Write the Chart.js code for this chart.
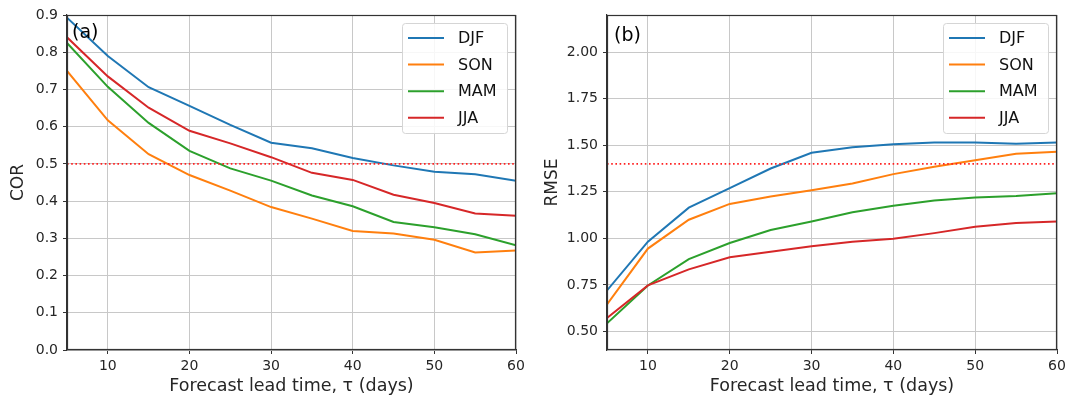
<!DOCTYPE html>
<html><head><meta charset="utf-8">
<script src="https://cdn.jsdelivr.net/npm/chart.js@4/dist/chart.umd.min.js"></script>
<style>
html,body{margin:0;padding:0;background:#fff;width:1066px;height:398px;overflow:hidden}
#c1{position:absolute;left:0;top:0;width:530px;height:398px}
#c2{position:absolute;left:530px;top:0;width:536px;height:398px}
</style></head><body>
<canvas id="c1" width="530" height="398"></canvas>
<canvas id="c2" width="536" height="398"></canvas>
<script>
// ---- data ----
const leadTimes = [5, 10, 15, 20, 25, 30, 35, 40, 45, 50, 55, 60];
const seasons = ['DJF', 'SON', 'MAM', 'JJA'];
const corDJF = [0.893, 0.790, 0.706, 0.656, 0.605, 0.557, 0.542, 0.516, 0.496, 0.479, 0.472, 0.455];
const corSON = [0.750, 0.617, 0.526, 0.470, 0.428, 0.384, 0.353, 0.320, 0.313, 0.296, 0.262, 0.267];
const corMAM = [0.825, 0.707, 0.610, 0.535, 0.488, 0.455, 0.415, 0.386, 0.344, 0.330, 0.311, 0.281];
const corJJA = [0.840, 0.735, 0.651, 0.589, 0.555, 0.518, 0.476, 0.457, 0.417, 0.395, 0.367, 0.361];
const rmseDJF = [0.720, 0.982, 1.165, 1.270, 1.375, 1.460, 1.490, 1.505, 1.515, 1.515, 1.508, 1.515];
const rmseSON = [0.645, 0.945, 1.100, 1.185, 1.225, 1.258, 1.295, 1.345, 1.385, 1.420, 1.455, 1.465];
const rmseMAM = [0.543, 0.747, 0.888, 0.975, 1.045, 1.090, 1.140, 1.175, 1.203, 1.220, 1.228, 1.242];
const rmseJJA = [0.572, 0.747, 0.833, 0.898, 0.928, 0.957, 0.982, 0.998, 1.028, 1.062, 1.083, 1.090];
const corThreshold = 0.5;
const rmseThreshold = 1.4;
const xTicks = [10, 20, 30, 40, 50, 60];
const corTicks = [0.0, 0.1, 0.2, 0.3, 0.4, 0.5, 0.6, 0.7, 0.8, 0.9];
const rmseTicks = [0.50, 0.75, 1.00, 1.25, 1.50, 1.75, 2.00];
const xTitle = 'Forecast lead time, τ (days)';

// ---- styles ----
const colors = ['#1f77b4', '#ff7f0e', '#2ca02c', '#d62728'];
const FONT = "'DejaVu Sans', sans-serif";

function mkDatasets(series, thr) {
  const ds = series.map((arr, i) => ({
    label: seasons[i],
    data: leadTimes.map((x, j) => ({x: x, y: arr[j]})),
    borderColor: colors[i], backgroundColor: colors[i],
    borderWidth: 2, pointRadius: 0, tension: 0, fill: false,
    order: 10 - i
  }));
  ds.push({
    label: 'threshold', isRef: true,
    data: [{x: leadTimes[0], y: thr}, {x: leadTimes[leadTimes.length - 1], y: thr}],
    borderColor: '#ff2020', borderWidth: 1.6, borderDash: [1.6, 2.6],
    pointRadius: 0, fill: false, order: 0
  });
  return ds;
}

const overlayPlugin = {
  id: 'overlay',
  afterDraw(chart, args, opts) {
    const ctx = chart.ctx, a = chart.chartArea;
    ctx.save();
    // frame (spines)
    ctx.strokeStyle = '#333'; ctx.lineWidth = 1.2;
    ctx.strokeRect(Math.round(a.left) + 0.5, Math.round(a.top) + 0.5,
                   Math.round(a.right - a.left) - 1, Math.round(a.bottom - a.top) - 1);
    // panel label
    ctx.fillStyle = '#000';
    ctx.font = '19px ' + FONT;
    ctx.textBaseline = 'middle'; ctx.textAlign = 'left';
    ctx.fillText(opts.panel, a.left + opts.panelDx, a.top + opts.panelDy);
    // legend
    const items = chart.data.datasets.filter(d => !d.isRef);
    const w = 105, h = 110;
    const bx = a.right - 9 - w, by = a.top + 8;
    ctx.beginPath();
    if (ctx.roundRect) ctx.roundRect(bx + 0.5, by + 0.5, w, h, 3); else ctx.rect(bx + 0.5, by + 0.5, w, h);
    ctx.fillStyle = 'rgba(255,255,255,0.85)'; ctx.fill();
    ctx.strokeStyle = '#d5d5d5'; ctx.lineWidth = 1; ctx.stroke();
    ctx.font = '16px ' + FONT; ctx.textBaseline = 'middle';
    items.forEach((d, i) => {
      const cy = by + 15 + i * 26.6;
      ctx.beginPath(); ctx.strokeStyle = d.borderColor; ctx.lineWidth = 2;
      ctx.moveTo(bx + 6, cy); ctx.lineTo(bx + 42, cy); ctx.stroke();
      ctx.fillStyle = '#111'; ctx.fillText(d.label, bx + 56, cy + 1);
    });
    ctx.restore();
  }
};

function mkChart(id, series, thr, yMin, yMax, yTicks, yDec, yTitle, yAxisW, padRight, titlePad, panel, pdx, pdy) {
  return new Chart(document.getElementById(id), {
    type: 'line',
    data: {datasets: mkDatasets(series, thr)},
    plugins: [overlayPlugin],
    options: {
      responsive: false, animation: false, devicePixelRatio: 1,
      layout: {padding: {top: 15, right: padRight, bottom: 0, left: 0}},
      plugins: {legend: {display: false}, tooltip: {enabled: false},
                overlay: {panel: panel, panelDx: pdx, panelDy: pdy}},
      scales: {
        x: {
          type: 'linear', min: leadTimes[0], max: leadTimes[leadTimes.length - 1],
          afterBuildTicks: s => { s.ticks = xTicks.map(v => ({value: v})); },
          afterFit: s => { s.height = 48; s.paddingRight = 0; s.paddingLeft = 0; },
          grid: {color: '#c8c8c8', lineWidth: 1, tickLength: 4, tickColor: '#333', drawTicks: true},
          border: {color: '#333', width: 1.2},
          ticks: {font: {family: FONT, size: 14}, color: '#262626', padding: 4, maxRotation: 0,
                  callback: v => String(v)},
          title: {display: true, text: xTitle, font: {family: FONT, size: 17.5}, color: '#262626',
                  padding: {top: 0, bottom: 1}}
        },
        y: {
          type: 'linear', min: yMin, max: yMax,
          afterBuildTicks: s => { s.ticks = yTicks.map(v => ({value: v})); },
          afterFit: s => { s.width = yAxisW; s.paddingTop = 0; s.paddingBottom = 0; },
          grid: {color: '#c8c8c8', lineWidth: 1, tickLength: 4, tickColor: '#333', drawTicks: true},
          border: {color: '#333', width: 1.2},
          ticks: {font: {family: FONT, size: 14}, color: '#262626', padding: 5,
                  callback: v => Number(v).toFixed(yDec)},
          title: {display: true, text: yTitle, font: {family: FONT, size: 17}, color: '#262626',
                  padding: {top: titlePad, bottom: 0}}
        }
      }
    }
  });
}

mkChart('c1', [corDJF, corSON, corMAM, corJJA], corThreshold, 0, 0.9, corTicks, 1, 'COR', 67, 14, 8, '(a)', 5, 18);
mkChart('c2', [rmseDJF, rmseSON, rmseMAM, rmseJJA], rmseThreshold, 0.4, 2.2, rmseTicks, 2, 'RMSE', 77, 9, 12, '(b)', 7, 21);
</script>
</body></html>
